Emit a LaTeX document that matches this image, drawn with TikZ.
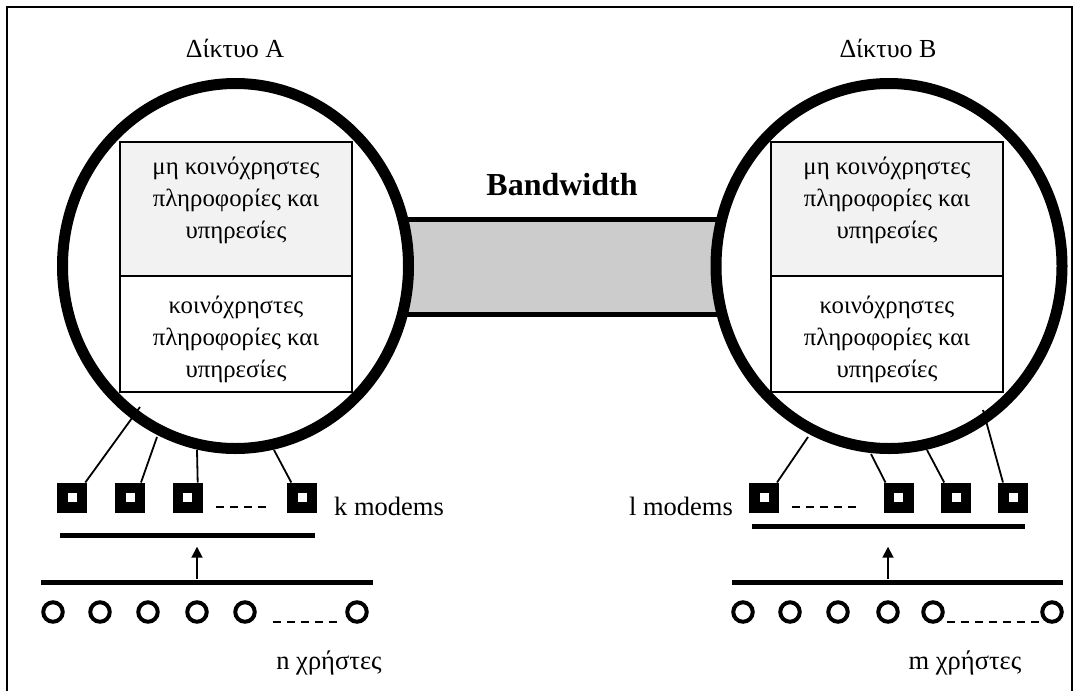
\documentclass[tikz,border=0pt]{standalone}
\usepackage{fontspec}
\setmainfont{Liberation Serif}
\usetikzlibrary{shapes.geometric,arrows.meta}
\definecolor{bwfill}{HTML}{CCCCCC}
\definecolor{privfill}{HTML}{F2F2F2}

\begin{document}
\begin{tikzpicture}[x=1pt,y=-1pt,
  net/.style={ellipse,draw,line width=11pt,fill=white,minimum width=346pt,minimum height=365pt,inner sep=0pt},
  modem/.style={rectangle,draw,line width=10.5pt,fill=white,minimum size=19.5pt,inner sep=0pt},
  user/.style={circle,draw,line width=4pt,minimum size=19.5pt,inner sep=0pt},
  bus/.style={rectangle,fill=black,minimum height=5pt,inner sep=0pt},
  link/.style={line width=1.8pt},
  dots/.style={line width=2.2pt,dash pattern=on 8pt off 6pt},
  infobox/.style={rectangle,draw,line width=2pt,minimum width=232pt,inner sep=0pt},
  lbl/.style={font=\fontsize{24.8}{32}\selectfont,align=center,inner sep=0pt},
  tag/.style={font=\fontsize{26.5}{30}\selectfont,inner sep=0pt},
  uparrow/.style={line width=1.8pt,-{Triangle[width=11pt,length=11pt]}},
]
\useasboundingbox (0,0) rectangle (1079,691);

% outer frame (open at the bottom)
\draw[line width=2pt] (7,691) -- (7,7) -- (1072,7) -- (1072,691);

% bandwidth pipe between the two networks
\node[rectangle,fill=bwfill,minimum width=652pt,minimum height=95pt,inner sep=0pt] (bw) at (562,267) {};
\draw[line width=4.5pt] (bw.north west) -- (bw.north east) (bw.south west) -- (bw.south east);
\node[font=\bfseries\fontsize{32}{34}\selectfont,inner sep=0pt] (bwlbl) at (562,185) {Bandwidth};

% the two networks
\node[net] (netA) at (235.5,266) {};
\node[net] (netB) at (889,266) {};
\node[tag,font=\fontsize{26}{30}\selectfont] (titleA) at (235,48) {Δίκτυο A};
\node[tag,font=\fontsize{26}{30}\selectfont] (titleB) at (888,48) {Δίκτυο B};

% private / shared information boxes
\node[infobox,fill=privfill,minimum height=134pt] (privA) at (236,209) {};
\node[infobox,minimum height=116pt] (pubA) at (236,334) {};
\node[infobox,fill=privfill,minimum height=134pt] (privB) at (887,209) {};
\node[infobox,minimum height=116pt] (pubB) at (887,334) {};
\node[lbl] (privAt) at (236,200) {μη κοινόχρηστες\\πληροφορίες και\\υπηρεσίες};
\node[lbl] (pubAt) at (236,339) {κοινόχρηστες\\πληροφορίες και\\υπηρεσίες};
\node[lbl] (privBt) at (887,200) {μη κοινόχρηστες\\πληροφορίες και\\υπηρεσίες};
\node[lbl] (pubBt) at (887,339) {κοινόχρηστες\\πληροφορίες και\\υπηρεσίες};

% modems of network A
\node[modem] (mA1) at (72.3,497.5) {};
\node[modem] (mA2) at (130,497.5) {};
\node[modem] (mA3) at (187.7,497.5) {};
\node[modem] (mA4) at (302.3,497.5) {};
\node[tag,anchor=west] (kmod) at (334,506) {k modems};
% modems of network B
\node[modem] (mB1) at (764,497.5) {};
\node[modem] (mB2) at (898.5,497.5) {};
\node[modem] (mB3) at (956.2,497.5) {};
\node[modem] (mB4) at (1013,497.5) {};
\node[tag,anchor=east] (lmod) at (733,506) {l modems};

% links from the networks to their modems
\coordinate (tA1) at (140,407);
\coordinate (tA2) at (157,437);
\coordinate (tA3) at (197,450);
\coordinate (tA4) at (274,450);
\coordinate (tB1) at (808,437);
\coordinate (tB2) at (871,454);
\coordinate (tB3) at (927,450);
\coordinate (tB4) at (983,410);
\draw[link] (tA1) -- ([xshift=-2pt]mA1.north east);
\draw[link] (tA2) -- ([xshift=-4pt]mA2.north east);
\draw[link] (tA3) -- ([xshift=-5pt]mA3.north east);
\draw[link] (tA4) -- ([xshift=4pt]mA4.north west);
\draw[link] (tB1) -- ([xshift=-2pt]mB1.north east);
\draw[link] (tB2) -- ([xshift=2pt]mB2.north west);
\draw[link] (tB3) -- ([xshift=3pt]mB3.north west);
\draw[link] (tB4) -- ([xshift=5pt]mB4.north west);

% elided modems
\coordinate (dA1) at (216,507); \coordinate (dA2) at (267,507);
\coordinate (dB1) at (792,507); \coordinate (dB2) at (859,507);
\draw[dots] (dA1) -- (dA2);
\draw[dots] (dB1) -- (dB2);

% modem buses
\node[bus,minimum width=255pt] (mbusA) at (187.5,535) {};
\node[bus,minimum width=273pt] (mbusB) at (888.5,526) {};

% user buses
\node[bus,minimum width=332pt] (ubusA) at (207,582) {};
\node[bus,minimum width=331pt] (ubusB) at (897.5,582) {};

% users of network A
\node[user] (uA1) at (53,612) {};
\node[user] (uA2) at (100,612) {};
\node[user] (uA3) at (148,612) {};
\node[user] (uA4) at (197,612) {};
\node[user] (uA5) at (245,612) {};
\node[user] (uA6) at (357,612) {};
% users of network B
\node[user] (uB1) at (743,612) {};
\node[user] (uB2) at (790,612) {};
\node[user] (uB3) at (838,612) {};
\node[user] (uB4) at (888,612) {};
\node[user] (uB5) at (933,612) {};
\node[user] (uB6) at (1052,612) {};

\coordinate (eA1) at (273,622); \coordinate (eA2) at (341,622);
\coordinate (eB1) at (947,622); \coordinate (eB2) at (1043,622);
\draw[dots] (eA1) -- (eA2);
\draw[dots] (eB1) -- (eB2);

\node[tag] (nusers) at (329,663) {n χρήστες};
\node[tag] (musers) at (965,663) {m χρήστες};

% users reach the modem pool
\draw[uparrow] (uA4 |- ubusA.north) -- ([yshift=-9pt]uA4 |- mbusA.south);
\draw[uparrow] (uB4 |- ubusB.north) -- ([yshift=-18pt]uB4 |- mbusB.south);
\end{tikzpicture}
\end{document}
